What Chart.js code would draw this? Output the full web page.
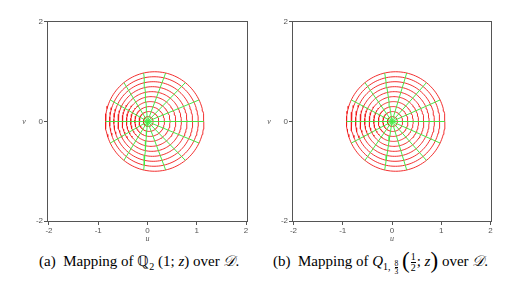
<!DOCTYPE html>
<html lang="en">
<head>
<meta charset="UTF-8">
<title>Mapping over D</title>
<script src="https://cdn.jsdelivr.net/npm/chart.js"></script>
<style>
  body { margin: 0; background: #fff; }
  .wrap { position: relative; width: 520px; height: 281px; overflow: hidden; }
  .box { position: absolute; top: 0; width: 260px; height: 245px; }
  .box canvas { display: block; }
  .cap { position: absolute; top: 252px; font-family: 'Liberation Serif', 'Times New Roman', serif;
         font-size: 15px; line-height: 18px; color: #000; white-space: nowrap; }
  .cap sub { font-size: 10px; vertical-align: -4px; line-height: 0; }
  .fr { display: inline-flex; flex-direction: column; vertical-align: middle; text-align: center; line-height: 1; }
  .fr span:first-child { border-bottom: 0.8px solid #000; }
  .fr.tiny { font-size: 7.5px; margin-left: 2px; }
  .fr.small { font-size: 10px; margin: 0 1px; }
  .big { font-size: 23px; vertical-align: -2px; }
</style>
</head>
<body>
<div class="wrap">
  <div class="box" style="left:0"><canvas id="chartA" width="260" height="245"></canvas></div>
  <div class="box" style="left:260px"><canvas id="chartB" width="260" height="245"></canvas></div>

  <div class="cap" style="left:39px">(a)&nbsp; Mapping of &#x211A;<sub>2</sub> (1; <i>z</i>) over <i>&#x1D49F;</i>.</div>
  <div class="cap" style="left:273px">(b)&nbsp; Mapping of <i>Q</i><sub>1,&thinsp;<span class="fr tiny"><span>8</span><span>3</span></span></sub>&nbsp;<span class="big">(</span><span class="fr small"><span>1</span><span>2</span></span>; <i>z</i><span class="big">)</span> over <i>&#x1D49F;</i>.</div>
</div>

<script>
// circles of the unit disk D, radii in the z plane
const ringRadius = [0.1, 0.2, 0.3, 0.4, 0.5, 0.6, 0.7, 0.8, 0.9, 1.0];
// how far each image circle sits to the right of the origin
const ringShiftA = [0.015, 0.029, 0.044, 0.058, 0.073, 0.087, 0.102, 0.116, 0.131, 0.145];
const ringShiftB = [0.008, 0.015, 0.023, 0.030, 0.038, 0.045, 0.053, 0.060, 0.068, 0.075];
// radial lines, degrees
const spokeAngles = [0, 25.7, 51.4, 77.1, 102.9, 128.6, 154.3, 180, 205.7, 231.4, 257.1, 282.9, 308.6, 334.3];
const xTicks = [-2, -1, 0, 1, 2];
const yTicks = [-2, 0, 2];

const RED = 'rgb(240, 25, 25)';
const GREEN = 'rgb(70, 232, 70)';
const AXIS = '#555';

function buildDatasets(shift) {
    const sets = [];
    // spokes first so they sit on top of the rings
    spokeAngles.forEach(deg => {
        const a = deg * Math.PI / 180;
        const pts = [{ x: 0, y: 0 }];
        ringRadius.forEach((r, i) => {
            pts.push({ x: shift[i] + r * Math.cos(a), y: r * Math.sin(a) });
        });
        sets.push({ data: pts, borderColor: GREEN, borderWidth: 1, showLine: true, pointRadius: 0 });
    });
    ringRadius.forEach((r, i) => {
        const pts = [];
        for (let t = 0; t <= 360; t += 3) {
            const a = t * Math.PI / 180;
            pts.push({ x: shift[i] + r * Math.cos(a), y: r * Math.sin(a) });
        }
        sets.push({ data: pts, borderColor: RED, borderWidth: 0.9, showLine: true, pointRadius: 0 });
    });
    return sets;
}

// frame around the plot box + the u / v letters
const framePlugin = {
    id: 'frame',
    afterDraw(chart, args, opts) {
        const { ctx, chartArea: a } = chart;
        ctx.save();
        ctx.strokeStyle = AXIS;
        ctx.lineWidth = 1;
        ctx.strokeRect(a.left + 0.5, a.top + 0.5, a.right - a.left - 1, a.bottom - a.top - 1);
        ctx.fillStyle = AXIS;
        ctx.font = 'italic 8px "Liberation Serif"';
        ctx.textAlign = 'center';
        ctx.textBaseline = 'middle';
        ctx.fillText('u', chart.scales.x.getPixelForValue(0), 239);
        ctx.fillText('v', opts.vX, chart.scales.y.getPixelForValue(0));
        ctx.restore();
    }
};

function tickFont() {
    return { family: 'Liberation Sans', size: 8 };
}

function makeChart(id, shift, yWidth, rightPad, xRange, vX) {
    return new Chart(document.getElementById(id), {
        type: 'scatter',
        data: { datasets: buildDatasets(shift) },
        options: {
            responsive: false,
            animation: false,
            layout: { padding: { left: 0, top: 21, right: rightPad, bottom: 0 } },
            plugins: { legend: { display: false }, tooltip: { enabled: false }, frame: { vX: vX } },
            scales: {
                x: {
                    type: 'linear', min: -xRange, max: xRange,
                    afterBuildTicks: s => { s.ticks = xTicks.map(v => ({ value: v })); },
                    afterFit: s => { s.height = 23; },
                    grid: { display: true, drawOnChartArea: false, drawTicks: true, tickLength: 3, color: AXIS },
                    border: { display: false },
                    ticks: { font: tickFont(), color: AXIS, padding: 1, maxRotation: 0, autoSkip: false }
                },
                y: {
                    type: 'linear', min: -2.02, max: 2.02,
                    afterBuildTicks: s => { s.ticks = yTicks.map(v => ({ value: v })); },
                    afterFit: s => { s.width = yWidth; },
                    grid: { display: true, drawOnChartArea: false, drawTicks: true, tickLength: 3, color: AXIS },
                    border: { display: false },
                    ticks: { font: tickFont(), color: AXIS, padding: 1, autoSkip: false }
                }
            }
        },
        plugins: [framePlugin]
    });
}

makeChart('chartA', ringShiftA, 47, 12, 2.04, 24);
makeChart('chartB', ringShiftB, 32, 28, 2.03, 9);
</script>
</body>
</html>
